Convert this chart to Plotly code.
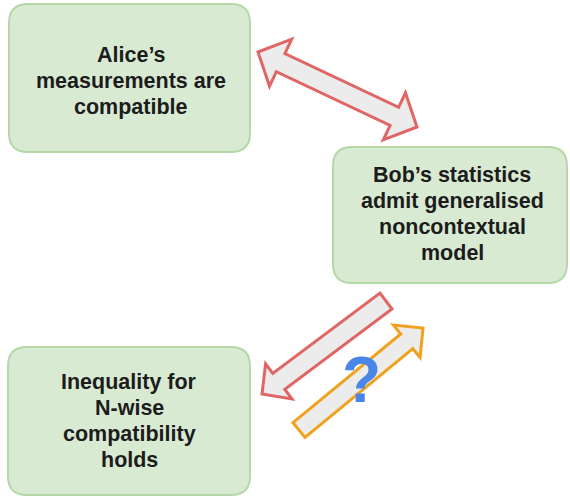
import math
import plotly.graph_objects as go

# ---- content ----
box_labels = [
    ["Alice’s", "measurements are", "compatible"],
    ["Bob’s statistics", "admit generalised", "noncontextual", "model"],
    ["Inequality for", "N-wise", "compatibility", "holds"],
]
question_label = "?"

# ---- geometry (pixels, y downward) ----
boxes = [  # x0, y0, x1, y1
    (9, 4, 250, 152),
    (333, 147, 567, 283),
    (8, 347, 250, 495),
]
text_centers_x = [131, 452, 129]
text_first_center_y = [55, 175, 382]
line_step = 26

arrows = [  # tail, tip, shaft half width, head length, head half width, double, stroke color
    ((417, 127), (258, 52), 10, 25, 26, True, "#e06666"),
    ((386, 301), (262, 394), 10, 21, 22, False, "#e06666"),
    ((299, 430), (423, 328), 9.5, 21, 21, False, "#f0a21f"),
]

BOX_FILL = "#d9ead3"
BOX_LINE = "#b6d7a8"
ARROW_FILL = "#ececec"
TEXT_COLOR = "#1c1c1c"
Q_COLOR = "#4a86e8"


def rounded_rect(x0, y0, x1, y1, r):
    return (f"M {x0+r},{y0} L {x1-r},{y0} Q {x1},{y0} {x1},{y0+r} "
            f"L {x1},{y1-r} Q {x1},{y1} {x1-r},{y1} L {x0+r},{y1} "
            f"Q {x0},{y1} {x0},{y1-r} L {x0},{y0+r} Q {x0},{y0} {x0+r},{y0} Z")


def arrow_path(tail, tip, hw, hl, hhw, double):
    tx, ty = tail
    px, py = tip
    L = math.hypot(px - tx, py - ty)
    ux, uy = (px - tx) / L, (py - ty) / L
    nx, ny = -uy, ux

    def pt(base, along, side):
        return (base[0] + ux * along + nx * side, base[1] + uy * along + ny * side)

    pts = []
    pts += [pt(tip, -hl, hw), pt(tip, -hl, hhw), tip, pt(tip, -hl, -hhw), pt(tip, -hl, -hw)]
    if double:
        pts += [pt(tail, hl, -hw), pt(tail, hl, -hhw), tail, pt(tail, hl, hhw), pt(tail, hl, hw)]
    else:
        pts += [pt(tail, 0, -hw), pt(tail, 0, hw)]
    return "M " + " L ".join(f"{x:.2f},{y:.2f}" for x, y in pts) + " Z"


fig = go.Figure()

shapes = []
for (x0, y0, x1, y1) in boxes:
    shapes.append(dict(type="path", path=rounded_rect(x0, y0, x1, y1, 19),
                       xref="x", yref="y", fillcolor=BOX_FILL,
                       line=dict(color=BOX_LINE, width=2), layer="above"))
for tail, tip, hw, hl, hhw, dbl, col in arrows:
    shapes.append(dict(type="path", path=arrow_path(tail, tip, hw, hl, hhw, dbl),
                       xref="x", yref="y", fillcolor=ARROW_FILL,
                       line=dict(color=col, width=3), layer="above"))

annotations = []
for lines, cx, cy0 in zip(box_labels, text_centers_x, text_first_center_y):
    for i, line in enumerate(lines):
        annotations.append(dict(x=cx, y=cy0 + i * line_step, xref="x", yref="y",
                                text=line, showarrow=False, xanchor="center", yanchor="middle",
                                font=dict(family="Liberation Sans, Arial, sans-serif", size=21.5,
                                          color=TEXT_COLOR, weight="bold")))
annotations.append(dict(x=361, y=380, xref="x", yref="y", text=question_label, showarrow=False,
                        xanchor="center", yanchor="middle",
                        font=dict(family="Liberation Sans, Arial, sans-serif", size=64,
                                  color=Q_COLOR, weight="bold")))

fig.update_layout(
    width=570, height=500,
    margin=dict(l=0, r=0, t=0, b=0),
    paper_bgcolor="white", plot_bgcolor="white",
    xaxis=dict(range=[0, 570], visible=False, fixedrange=True),
    yaxis=dict(range=[500, 0], visible=False, fixedrange=True),
    shapes=shapes, annotations=annotations, showlegend=False,
    hovermode=False,
)

fig.write_html("out.html",
               config={"displayModeBar": False, "staticPlot": True},
               post_script="document.body.style.margin='0';document.body.style.overflow='hidden';")
